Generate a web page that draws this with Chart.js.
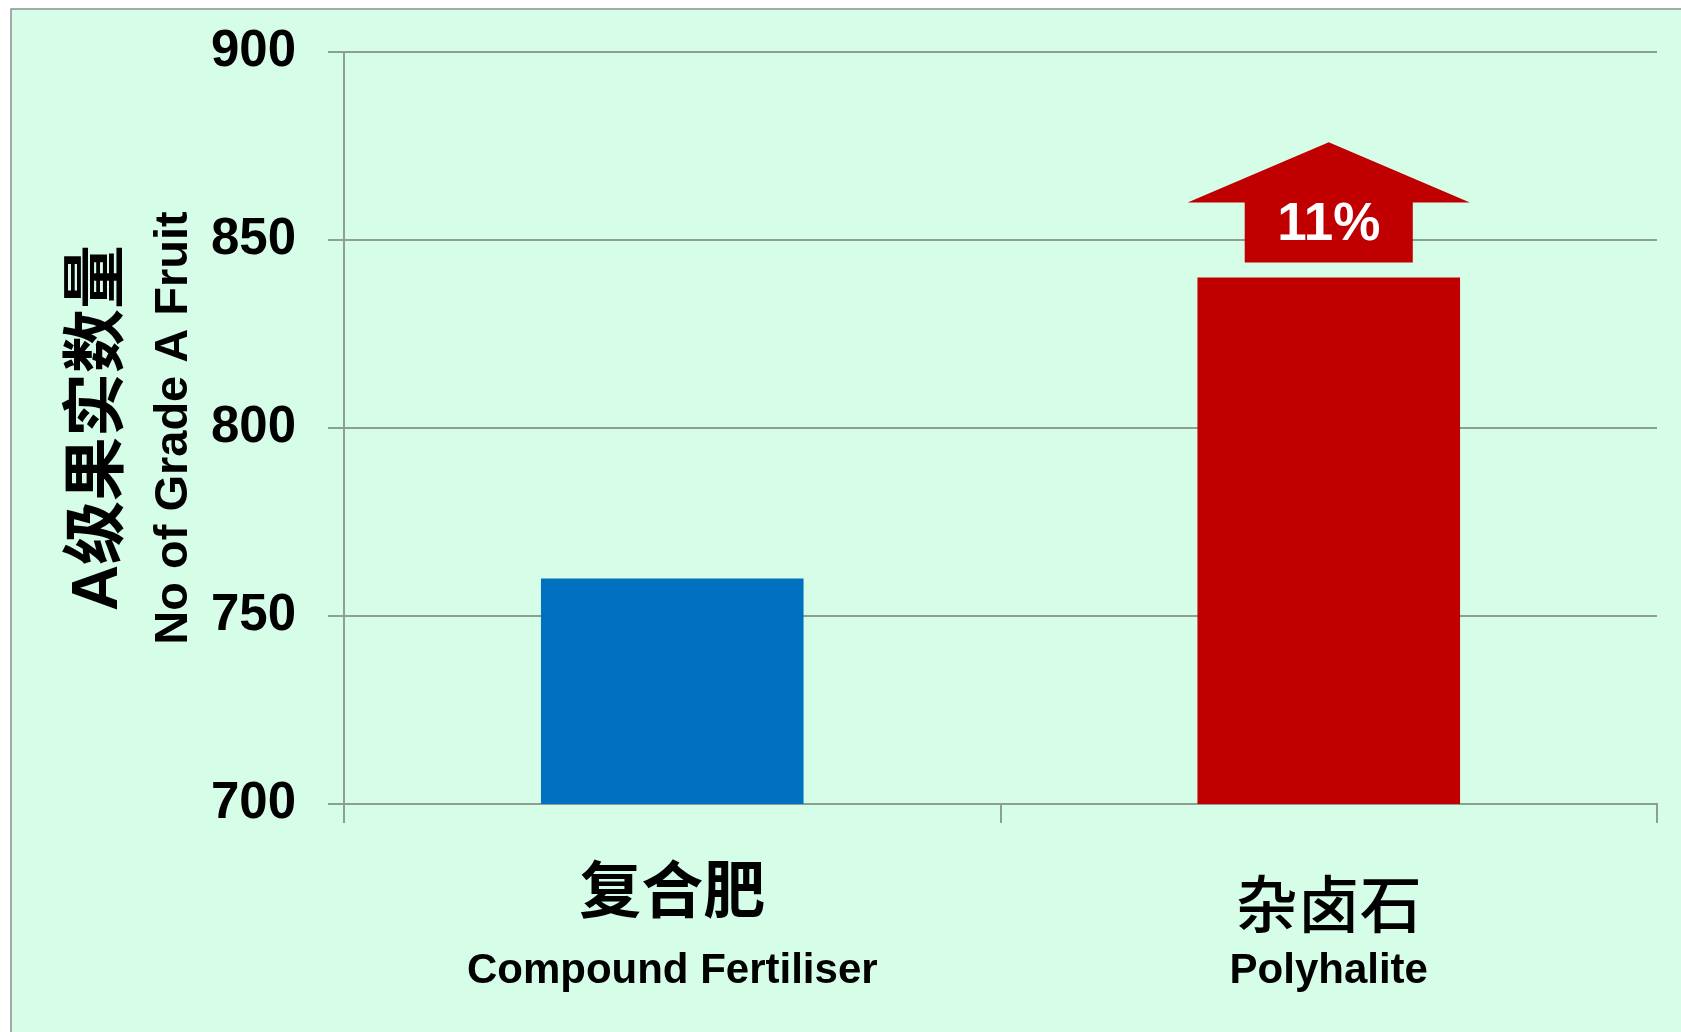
<!DOCTYPE html>
<html>
<head>
<meta charset="utf-8">
<script src="https://cdn.jsdelivr.net/npm/chart.js@4.4.0/dist/chart.umd.min.js"></script>
<style>
  html, body { margin: 0; padding: 0; background: #fff; }
  canvas { display: block; }
</style>
</head>
<body>
<canvas id="gradeAChart" width="1681" height="1032"></canvas>
<script>
// data
const cnLabels = ['复合肥', '杂卤石'];
const enLabels = ['Compound Fertiliser', 'Polyhalite'];
const gradeAValues = [760, 840];
const barColors = ['#0070C0', '#C00000'];
const yTickValues = [700, 750, 800, 850, 900];

// arrow over the polyhalite bar (axis units)
const arrowBase = 844, arrowWings = 860, arrowTip = 876, arrowTextLine = 850;

const FONT = "'Liberation Sans', Arial, 'Noto Sans CJK SC', sans-serif";
const GRID = '#8c9f92';

const backgroundPlugin = {
  id: 'panelBackground',
  beforeDraw(chart) {
    const ctx = chart.ctx;
    ctx.save();
    ctx.fillStyle = '#fff';
    ctx.fillRect(0, 0, chart.width, chart.height);
    ctx.fillStyle = '#d5fde8';
    ctx.fillRect(11, 9, chart.width, chart.height);
    ctx.strokeStyle = '#8f8f8f';
    ctx.lineWidth = 1.5;
    ctx.strokeRect(11, 9, chart.width + 20, chart.height + 20);
    ctx.restore();
  }
};

const arrowPlugin = {
  id: 'increaseArrow',
  afterDatasetsDraw(chart) {
    const bar = chart.getDatasetMeta(0).data[1];
    const y = chart.scales.y;
    const ctx = chart.ctx;
    const cx = bar.x, w = bar.width;
    const yBase = y.getPixelForValue(arrowBase);
    const yWing = y.getPixelForValue(arrowWings);
    const yTip = y.getPixelForValue(arrowTip);
    ctx.save();
    ctx.fillStyle = barColors[1];
    ctx.beginPath();
    ctx.moveTo(cx - w * 0.32, yBase);
    ctx.lineTo(cx - w * 0.32, yWing);
    ctx.lineTo(cx - w * 0.5375, yWing);
    ctx.lineTo(cx, yTip);
    ctx.lineTo(cx + w * 0.5375, yWing);
    ctx.lineTo(cx + w * 0.32, yWing);
    ctx.lineTo(cx + w * 0.32, yBase);
    ctx.closePath();
    ctx.fill();
    const pct = Math.round((gradeAValues[1] - gradeAValues[0]) / gradeAValues[0] * 100);
    ctx.fillStyle = '#fff';
    ctx.font = 'bold 53px ' + FONT;
    ctx.textAlign = 'center';
    ctx.textBaseline = 'alphabetic';
    ctx.fillText(pct + '%', cx, y.getPixelForValue(arrowTextLine));
    ctx.restore();
  }
};

const ctx = document.getElementById('gradeAChart').getContext('2d');
new Chart(ctx, {
  type: 'bar',
  data: {
    labels: cnLabels,
    datasets: [{
      label: 'No of Grade A Fruit',
      data: gradeAValues,
      backgroundColor: barColors,
      borderWidth: 0,
      barPercentage: 0.4,
      categoryPercentage: 1
    }]
  },
  options: {
    responsive: false,
    animation: false,
    layout: { padding: { left: 52.5, right: 24, top: 52, bottom: 0 } },
    plugins: {
      legend: { display: false },
      tooltip: { enabled: false }
    },
    scales: {
      x: {
        type: 'category',
        offset: true,
        weight: 0,
        grid: { display: true, offset: true, drawOnChartArea: false, drawTicks: true, tickLength: 19, color: GRID, lineWidth: 2 },
        border: { display: true, color: GRID, width: 2 },
        ticks: {
          color: '#000',
          padding: 29,
          maxRotation: 0,
          // the second label sits a bit lower in the original
          font: c => ({
            family: "'Noto Sans CJK SC', sans-serif",
            size: 62,
            weight: c.index === 0 ? 'bold' : '500',
            lineHeight: c.index === 0 ? 1.2 : 1.684
          })
        },
        afterFit: s => { s.height = 140; }
      },
      x2: {
        type: 'category',
        position: 'bottom',
        labels: enLabels,
        offset: true,
        weight: 1,
        grid: { display: false, drawTicks: false, tickLength: 0 },
        border: { display: false },
        ticks: { color: '#000', padding: 2, maxRotation: 0, font: { family: FONT, size: 42, weight: 'bold' } },
        afterFit: s => { s.height = 88; }
      },
      y: {
        type: 'linear',
        position: 'left',
        weight: 0,
        min: yTickValues[0],
        max: yTickValues[yTickValues.length - 1],
        afterBuildTicks: s => { s.ticks = yTickValues.map(v => ({ value: v })); },
        grid: { color: GRID, lineWidth: 2, drawTicks: true, tickLength: 16 },
        border: { display: true, color: GRID, width: 2 },
        ticks: { color: '#000', padding: 32, font: { family: FONT, size: 51, weight: 'bold' } },
        title: {
          display: true,
          text: 'No of Grade A Fruit',
          color: '#000',
          padding: { top: 5, bottom: 0 },
          font: { family: FONT, size: 47, weight: 'bold' }
        },
        afterFit: s => {
          s.width = 203.5;
          // label padding is horizontal here, don't let it push the plot down
          s.paddingTop = 30;
          s.paddingBottom = 30;
        }
      },
      y2: {
        type: 'linear',
        position: 'left',
        weight: 1,
        grid: { display: false, drawTicks: false },
        border: { display: false },
        ticks: { display: false },
        title: {
          display: true,
          text: 'A级果实数量',
          color: '#000',
          padding: { top: 8, bottom: 4 },
          font: { family: FONT, size: 64, weight: 'bold' }
        },
        afterFit: s => { s.width = 88; }
      }
    }
  },
  plugins: [backgroundPlugin, arrowPlugin]
});
</script>
</body>
</html>
